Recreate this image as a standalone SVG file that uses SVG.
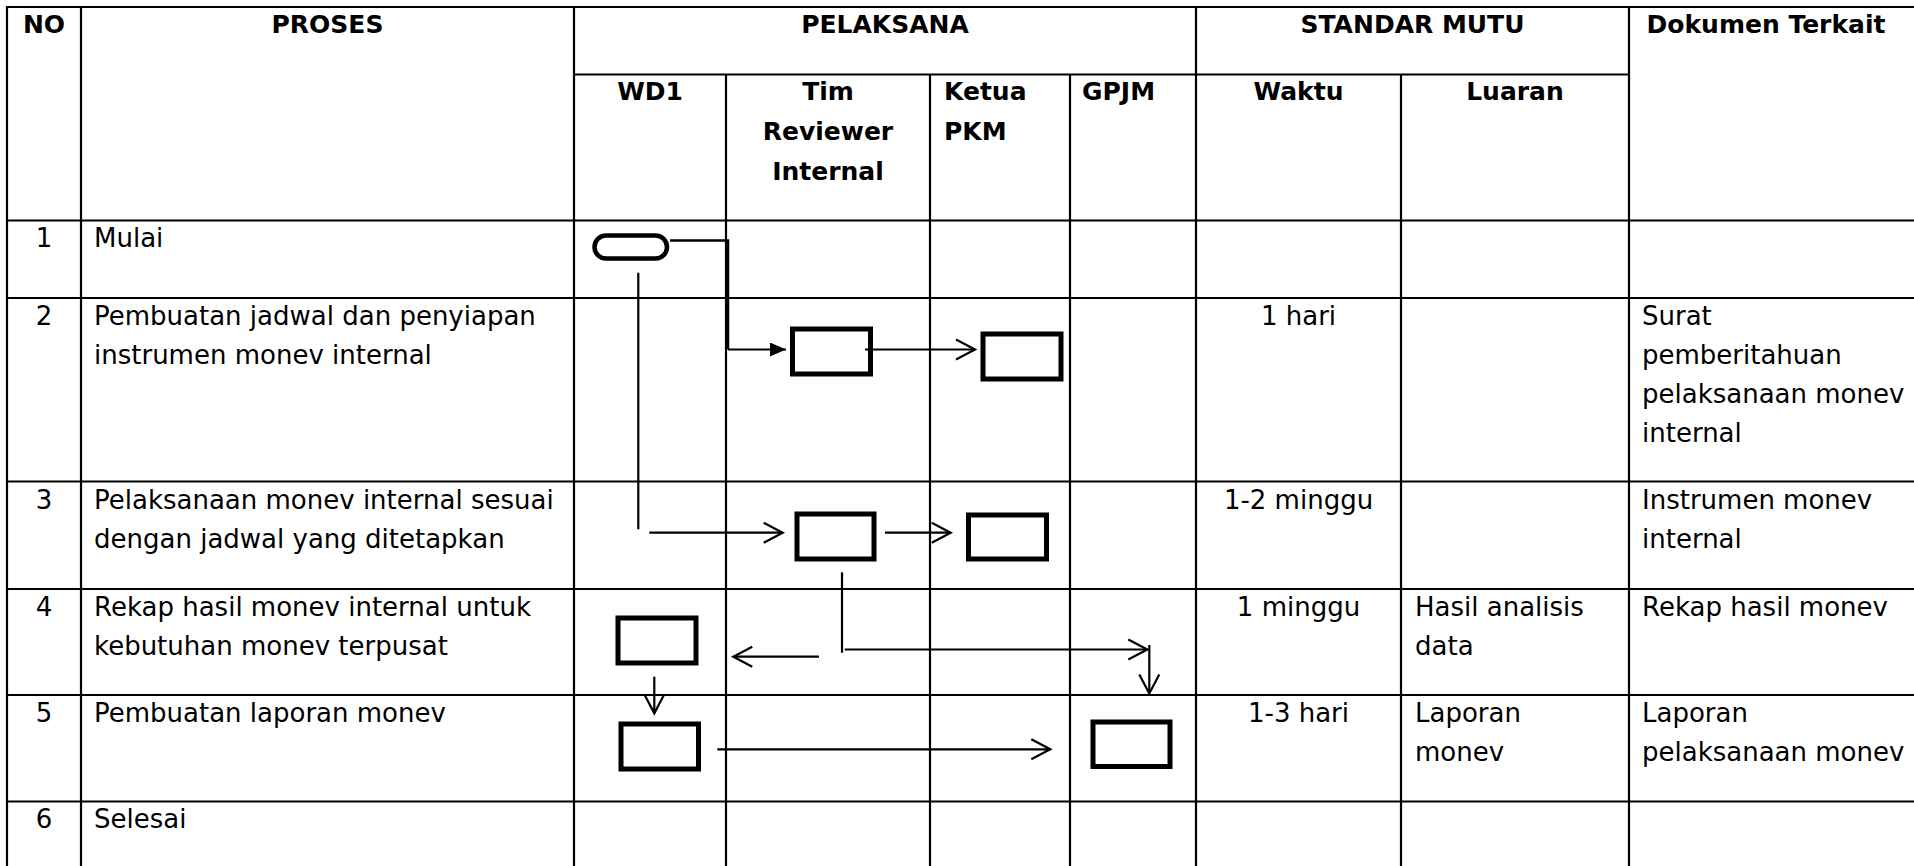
<svg xmlns="http://www.w3.org/2000/svg" width="1914" height="866" viewBox="0 0 1914 866">
<style>
.bg{fill:#ffffff}
.grid line{stroke:#000;stroke-width:2.2}
.h{font-family:"DejaVu Sans",sans-serif;font-weight:bold;font-size:25px;fill:#000}
.t{font-family:"DejaVu Sans",sans-serif;font-size:26px;fill:#000}
.c{text-anchor:middle}
.box{fill:none;stroke:#000;stroke-width:5}
.term{fill:none;stroke:#000;stroke-width:4.5}
.conn{fill:none;stroke:#000;stroke-width:2.2}
</style>
<defs>
<marker id="open" markerUnits="userSpaceOnUse" markerWidth="24" markerHeight="24" refX="20" refY="12" orient="auto">
<path d="M1,2 L20,12 L1,22" fill="none" stroke="#000" stroke-width="2.2"/>
</marker>
<marker id="solid" markerUnits="userSpaceOnUse" markerWidth="18" markerHeight="16" refX="16" refY="7" orient="auto">
<path d="M0,0 L16,7 L0,14 z" fill="#000"/>
</marker>
</defs>
<rect class="bg" x="0" y="0" width="1914" height="866"/>

<g id="table-grid" class="grid">
<line x1="7" y1="7" x2="1914" y2="7"/>
<line x1="574" y1="74.5" x2="1629" y2="74.5"/>
<line x1="7" y1="220.5" x2="1914" y2="220.5"/>
<line x1="7" y1="298" x2="1914" y2="298"/>
<line x1="7" y1="481.5" x2="1914" y2="481.5"/>
<line x1="7" y1="589" x2="1914" y2="589"/>
<line x1="7" y1="695" x2="1914" y2="695"/>
<line x1="7" y1="801.5" x2="1914" y2="801.5"/>
<line x1="7" y1="6" x2="7" y2="866"/>
<line x1="81" y1="6" x2="81" y2="866"/>
<line x1="574" y1="6" x2="574" y2="866"/>
<line x1="726" y1="74.5" x2="726" y2="866"/>
<line x1="930" y1="74.5" x2="930" y2="866"/>
<line x1="1070" y1="74.5" x2="1070" y2="866"/>
<line x1="1196" y1="6" x2="1196" y2="866"/>
<line x1="1401" y1="74.5" x2="1401" y2="866"/>
<line x1="1629" y1="6" x2="1629" y2="866"/>
</g>

<g id="header">
<text class="h c" x="44" y="33">NO</text>
<text class="h c" x="327.5" y="33">PROSES</text>
<text class="h c" x="885" y="33">PELAKSANA</text>
<text class="h c" x="1412.5" y="33">STANDAR MUTU</text>
<text class="h c" x="1766" y="33">Dokumen Terkait</text>
<text class="h c" x="650" y="100">WD1</text>
<text class="h c" x="828" y="100">Tim</text>
<text class="h c" x="828" y="140">Reviewer</text>
<text class="h c" x="828" y="180">Internal</text>
<text class="h" x="944" y="100">Ketua</text>
<text class="h" x="944" y="140">PKM</text>
<text class="h" x="1082" y="100">GPJM</text>
<text class="h c" x="1298.5" y="100">Waktu</text>
<text class="h c" x="1515" y="100">Luaran</text>
</g>

<g id="row1">
<text class="t c" x="44" y="247">1</text>
<text class="t" x="94" y="247">Mulai</text>
</g>
<g id="row2">
<text class="t c" x="44" y="324.5">2</text>
<text class="t" x="94" y="324.5">Pembuatan jadwal dan penyiapan</text>
<text class="t" x="94" y="364">instrumen monev internal</text>
<text class="t c" x="1298.5" y="324.5">1 hari</text>
<text class="t" x="1642" y="324.5">Surat</text>
<text class="t" x="1642" y="363.5">pemberitahuan</text>
<text class="t" x="1642" y="402.5">pelaksanaan monev</text>
<text class="t" x="1642" y="441.5">internal</text>
</g>
<g id="row3">
<text class="t c" x="44" y="508.5">3</text>
<text class="t" x="94" y="508.5">Pelaksanaan monev internal sesuai</text>
<text class="t" x="94" y="548">dengan jadwal yang ditetapkan</text>
<text class="t c" x="1298.5" y="508.5">1-2 minggu</text>
<text class="t" x="1642" y="508.5">Instrumen monev</text>
<text class="t" x="1642" y="548">internal</text>
</g>
<g id="row4">
<text class="t c" x="44" y="615.5">4</text>
<text class="t" x="94" y="615.5">Rekap hasil monev internal untuk</text>
<text class="t" x="94" y="655">kebutuhan monev terpusat</text>
<text class="t c" x="1298.5" y="615.5">1 minggu</text>
<text class="t" x="1415" y="615.5">Hasil analisis</text>
<text class="t" x="1415" y="655">data</text>
<text class="t" x="1642" y="615.5">Rekap hasil monev</text>
</g>
<g id="row5">
<text class="t c" x="44" y="721.5">5</text>
<text class="t" x="94" y="721.5">Pembuatan laporan monev</text>
<text class="t c" x="1298.5" y="721.5">1-3 hari</text>
<text class="t" x="1415" y="721.5">Laporan</text>
<text class="t" x="1415" y="761">monev</text>
<text class="t" x="1642" y="721.5">Laporan</text>
<text class="t" x="1642" y="761">pelaksanaan monev</text>
</g>
<g id="row6">
<text class="t c" x="44" y="828">6</text>
<text class="t" x="94" y="828">Selesai</text>
</g>

<g id="node-start"><rect class="term" x="594.5" y="235.5" width="72.5" height="23" rx="11.5" ry="11.5"/></g>
<g id="node-a"><rect class="box" x="792.5" y="329" width="78" height="45"/></g>
<g id="node-b"><rect class="box" x="983" y="334" width="78" height="45"/></g>
<g id="node-c"><rect class="box" x="797" y="514" width="77" height="45"/></g>
<g id="node-d"><rect class="box" x="968.5" y="515" width="78" height="44"/></g>
<g id="node-e"><rect class="box" x="618" y="618" width="78" height="45"/></g>
<g id="node-f"><rect class="box" x="621" y="724" width="77.5" height="45"/></g>
<g id="node-g"><rect class="box" x="1093" y="722" width="77" height="44.5"/></g>

<g id="connectors" class="conn">
<polyline points="670,240.5 728,240.5 728,349.5" stroke-width="2.5"/>
<line x1="728" y1="349.5" x2="786" y2="349.5" marker-end="url(#solid)"/>
<line x1="865" y1="349.5" x2="975" y2="349.5" marker-end="url(#open)"/>
<line x1="638.3" y1="272.7" x2="638.3" y2="529.3"/>
<line x1="649.3" y1="532.7" x2="782.7" y2="532.7" marker-end="url(#open)"/>
<line x1="885" y1="532.7" x2="950.7" y2="532.7" marker-end="url(#open)"/>
<line x1="842" y1="572.3" x2="842" y2="652.7"/>
<line x1="844.7" y1="649.5" x2="1147.3" y2="649.5" marker-end="url(#open)"/>
<line x1="1149.3" y1="645" x2="1149.3" y2="693.5" marker-end="url(#open)"/>
<line x1="819" y1="656.7" x2="733.3" y2="656.7" marker-end="url(#open)"/>
<line x1="654.3" y1="676.7" x2="654.3" y2="713.3" marker-end="url(#open)"/>
<line x1="717.3" y1="749.3" x2="1050.3" y2="749.3" marker-end="url(#open)"/>
</g>
</svg>
